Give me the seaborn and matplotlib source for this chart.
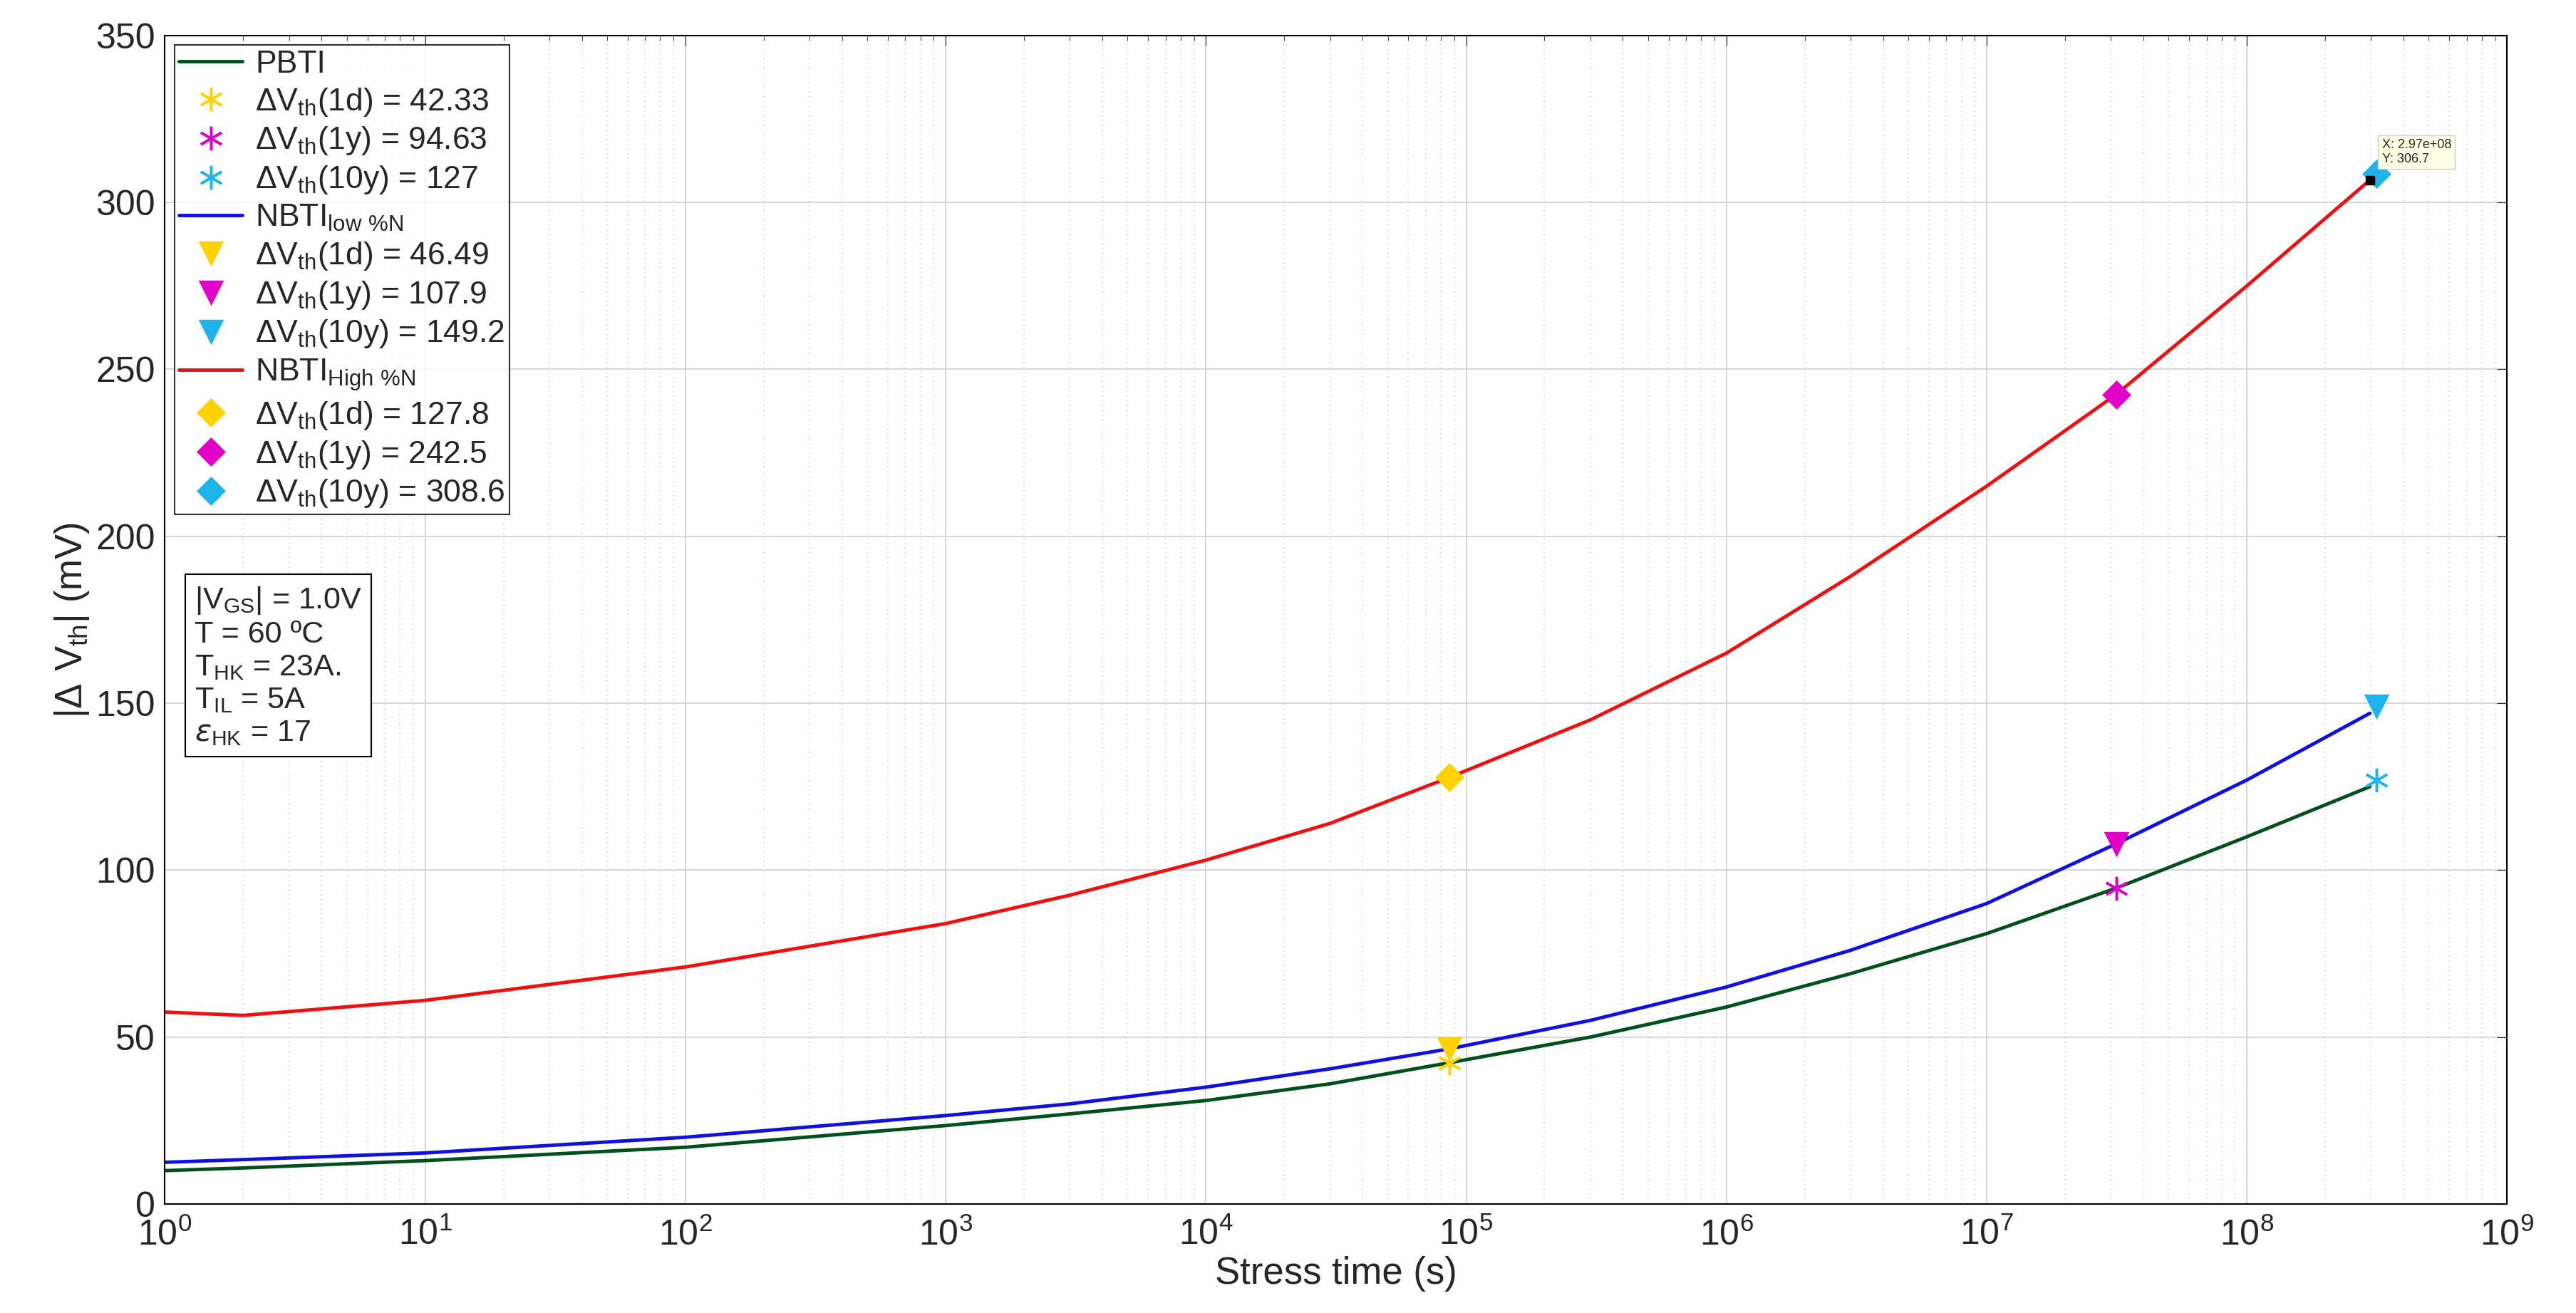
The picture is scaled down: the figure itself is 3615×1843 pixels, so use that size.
import numpy as np
import pandas as pd
import matplotlib
matplotlib.use("Agg")
import matplotlib.pyplot as plt
import seaborn as sns
from matplotlib.lines import Line2D

t = [1, 2, 10, 100, 1e3, 3e3, 1e4, 3e4, 8.64e4, 3e5, 1e6, 3e6, 1e7, 3.15e7, 1e8, 2.97e8]
pbti = [10, 10.8, 13, 17, 23.5, 27, 31, 36, 42.33, 50, 59, 69, 81, 94.63, 110, 125]
nbti_low = [12.5, 13.3, 15.3, 20, 26.5, 30, 35, 40.5, 46.49, 55, 65, 76, 90, 107.9, 127, 147]
nbti_high = [57.5, 56.5, 61, 71, 84, 92.5, 103, 114, 127.8, 145, 165, 188, 215, 242.5, 275, 306.7]

mark_t = [8.64e4, 3.15e7, 3.15e8]
mark_pbti = [42.33, 94.63, 127]
mark_low = [46.49, 107.9, 149.2]
mark_high = [127.8, 242.5, 308.6]
mark_colors = ["#FFD200", "#E000C8", "#1CB4EA"]
line_colors = {"PBTI": "#00501E", "low": "#1010E0", "high": "#F01010"}

df = pd.DataFrame({"t": t * 3,
                   "v": pbti + nbti_low + nbti_high,
                   "s": ["PBTI"] * len(t) + ["low"] * len(t) + ["high"] * len(t)})

sns.set_style("white")
plt.rcParams['font.family'] = ['Liberation Sans', 'DejaVu Sans']
fig = plt.figure(figsize=(36.16, 18.43), dpi=100)
ax = fig.add_axes([0.064, 0.083, 0.909, 0.89])
sns.lineplot(data=df, x="t", y="v", hue="s", palette=line_colors, linewidth=3.5,
             legend=False, ax=ax, sort=False)
ast = (6, 2, 0)
for vals, mk, ms in [(mark_pbti, ast, 24), (mark_low, "v", 22), (mark_high, "D", 18)]:
    for xx, yy, c in zip(mark_t, vals, mark_colors):
        ax.plot([xx], [yy], marker=mk, color=c, markersize=ms, markeredgecolor=c,
                markeredgewidth=2.5, linestyle="none")
ax.set_xscale("log")
ax.set_xlim(1, 1e9)
ax.set_ylim(0, 350)
ax.set_yticks(range(0, 351, 50))
ax.set_xticks([10.0**k for k in range(10)])
ax.grid(True, which="major", color="#d0d0d0", linewidth=1.2)
ax.grid(True, which="minor", axis="x", color="#d8d8d8", linestyle=(0, (1, 3)), linewidth=1.2)
ax.tick_params(labelsize=36, which="major", length=10, direction="in", top=True, right=True)
ax.tick_params(axis="x", pad=14)
ax.tick_params(axis="y", pad=10)
ax.tick_params(which="minor", length=5, direction="in", top=True, right=True)
for sp in ax.spines.values():
    sp.set_color("black"); sp.set_linewidth(1.5)
ax.set_xlabel("Stress time (s)", fontsize=38, labelpad=4)
ax.set_ylabel(r"$\mathregular{|\Delta\ V_{th}|}$ (mV)", fontsize=38)

handles, labels = [], []
names = ["1d", "1y", "10y"]
groups = [("PBTI", line_colors["PBTI"], ast, 24, mark_pbti),
          (r"NBTI$_{\mathregular{low\ \%N}}$", line_colors["low"], "v", 22, mark_low),
          (r"NBTI$_{\mathregular{High\ \%N}}$", line_colors["high"], "D", 18, mark_high)]
for lab, lc, mk, ms, vals in groups:
    handles.append(Line2D([], [], color=lc, linewidth=3.5)); labels.append(lab)
    for n, v, c in zip(names, vals, mark_colors):
        handles.append(Line2D([], [], marker=mk, color=c, markersize=ms, linestyle="none",
                              markeredgewidth=2.5))
        labels.append(r"$\mathregular{\Delta V_{th}}$" + f"({n}) = {v:g}")
leg = ax.legend(handles, labels, loc="upper left", fontsize=32, frameon=True, fancybox=False,
                edgecolor="black", borderaxespad=0.3, handlelength=2.0, labelspacing=0.22,
                borderpad=0.15, handletextpad=0.4)
leg.get_frame().set_linewidth(1.5)

ax.text(0.0125, 0.53, r"$\mathregular{|V_{GS}|}$ = 1.0V" + "\nT = 60 ºC\n" +
        r"$\mathregular{T_{HK}}$ = 23A." + "\n" + r"$\mathregular{T_{IL}}$ = 5A" + "\n" +
        r"$\epsilon_{\mathregular{HK}}$ = 17",
        transform=ax.transAxes, fontsize=31, va="top", ha="left", linespacing=1.2,
        bbox=dict(boxstyle="square,pad=0.3", facecolor="white", edgecolor="black", linewidth=1.5))

ax.plot([2.97e8], [306.7], marker="s", color="black", markersize=9, linestyle="none")
ax.annotate("X: 2.97e+08\nY: 306.7", xy=(2.97e8, 306.7), xytext=(3.3e8, 312), fontsize=13,
            bbox=dict(boxstyle="square,pad=0.3", facecolor="#FFFFE6", edgecolor="#cccccc"))
fig.savefig("out.png", dpi=100)
